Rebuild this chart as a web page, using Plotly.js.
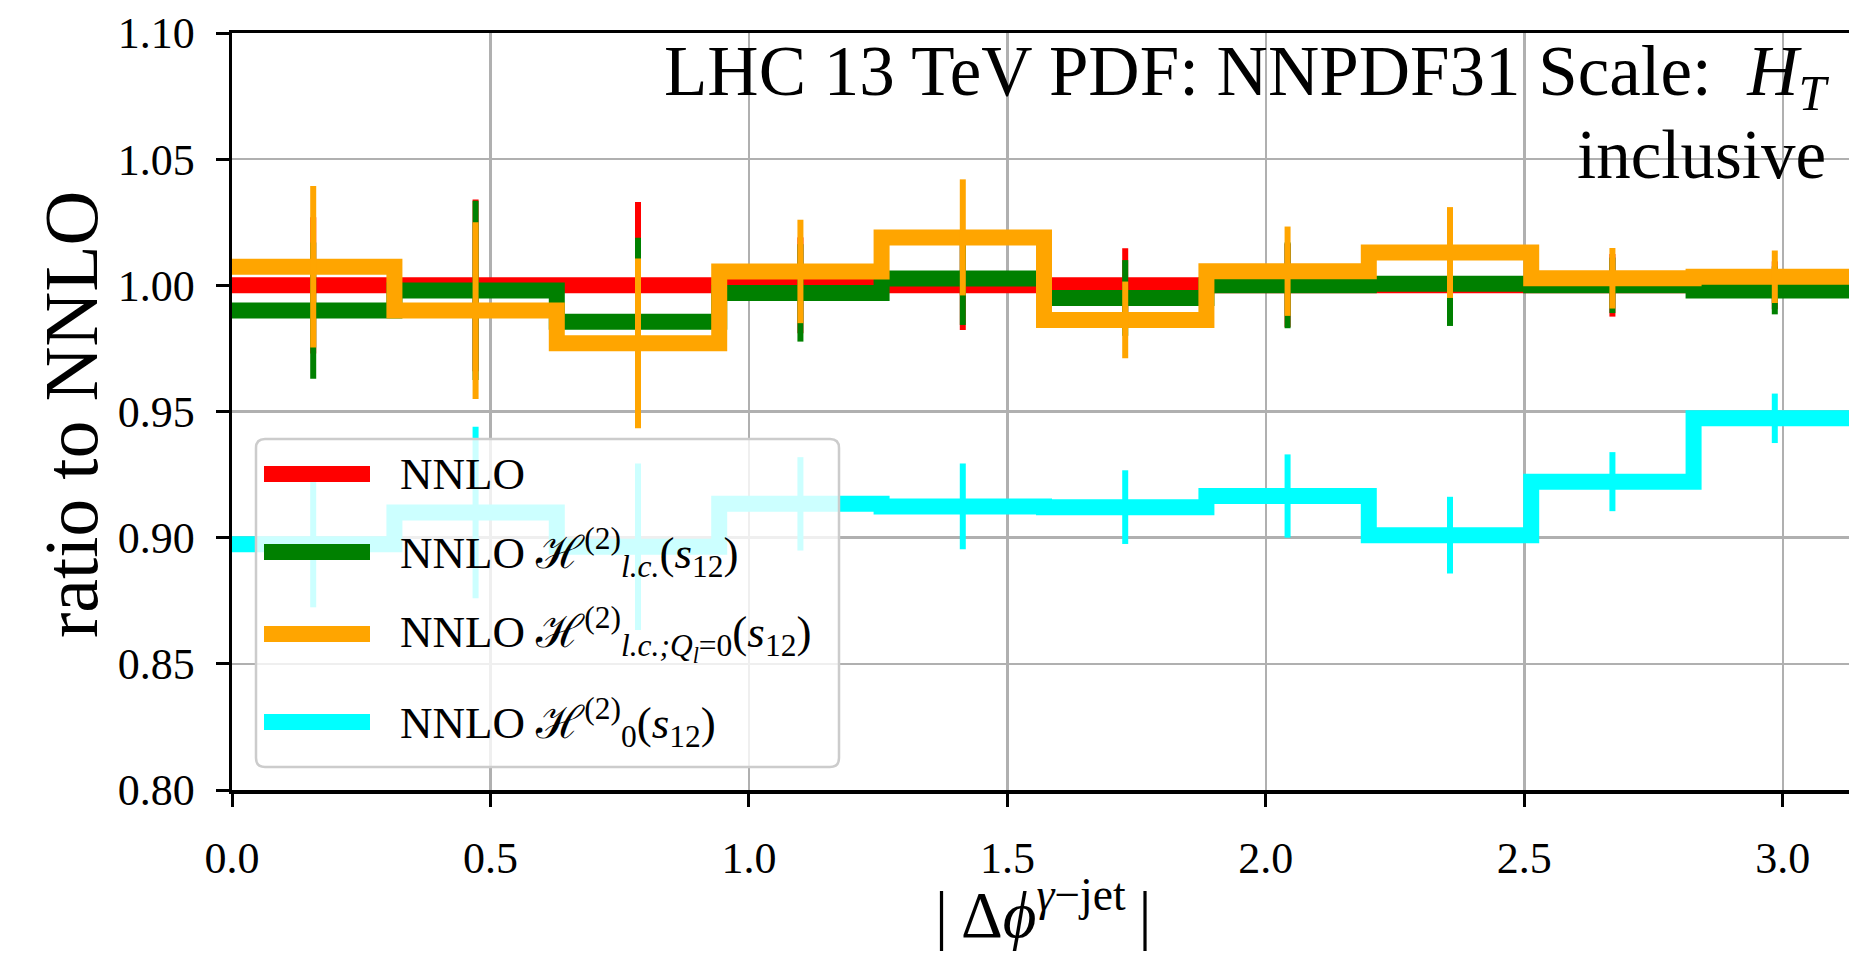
<!DOCTYPE html>
<html>
<head>
<meta charset="utf-8">
<script src="https://cdn.plot.ly/plotly-3.0.1.min.js"></script>
<style>
html,body{margin:0;padding:0;overflow:hidden;background:#fff;}
#plot{width:1857px;height:954px;}
</style>
</head>
<body>
<div id="plot"></div>
<script>
// ---- data ----
const binEdges   = [0, 0.3142, 0.6283, 0.9425, 1.2566, 1.5708, 1.8850, 2.1991, 2.5133, 2.8274, 3.1416];
const binCenters = [0.1571, 0.4712, 0.7854, 1.0996, 1.4137, 1.7279, 2.0420, 2.3562, 2.6704, 2.9845];

const nnlo      = [1.000, 1.000, 1.000, 1.000, 1.000, 1.000, 1.000, 1.000, 1.000, 1.000];
const nnloErr   = [0.027, 0.034, 0.033, 0.019, 0.0177, 0.0147, 0.0165, 0.0155, 0.0124, 0.0095];

const nnloLc    = [0.990, 0.998, 0.9856, 0.997, 1.0027, 0.995, 1.000, 1.0006, 1.000, 0.998];
const nnloLcErr = [0.027, 0.0355, 0.0333, 0.0193, 0.0184, 0.015, 0.017, 0.0167, 0.011, 0.0095];

const nnloQ0    = [1.0074, 0.990, 0.977, 1.0055, 1.019, 0.9863, 1.0056, 1.013, 1.0028, 1.0034];
const nnloQ0Err = [0.032, 0.035, 0.0336, 0.0205, 0.023, 0.0152, 0.0177, 0.018, 0.012, 0.0104];

const nnloH0    = [0.8974, 0.910, 0.8964, 0.9134, 0.9124, 0.9121, 0.9165, 0.901, 0.9222, 0.9473];
const nnloH0Err = [0.025, 0.034, 0.033, 0.0185, 0.017, 0.0146, 0.0165, 0.0152, 0.0117, 0.0098];

const seriesNames = [
  "NNLO",
  "NNLO \u210B<sup>(2)</sup><sub><i>l.c.</i></sub>(<i>s</i><sub>12</sub>)",
  "NNLO \u210B<sup>(2)</sup><sub><i>l.c.;Q<sub>l</sub></i>=0</sub>(<i>s</i><sub>12</sub>)",
  "NNLO \u210B<sup>(2)</sup><sub>0</sub>(<i>s</i><sub>12</sub>)"
];
const seriesColors = ["#ff0000", "#008000", "#ffa500", "#00ffff"];
const seriesVals = [nnlo, nnloLc, nnloQ0, nnloH0];
const seriesErrs = [nnloErr, nnloLcErr, nnloQ0Err, nnloH0Err];

const xTicks = [0.0, 0.5, 1.0, 1.5, 2.0, 2.5, 3.0];
const yTicks = [0.80, 0.85, 0.90, 0.95, 1.00, 1.05, 1.10];

// ---- layout geometry ----
const W = 1857, H = 954, ML = 232, MR = 1, MT = 33, MB = 164;
const PW = W - ML - MR, PH = H - MT - MB;
const px = p => (p - ML) / PW;
const py = p => (H - MB - p) / PH;
const FONT = "Liberation Serif, Times New Roman, serif";

const traces = [];
seriesVals.forEach((vals, i) => {
  traces.push({
    x: binEdges,
    y: vals.concat([vals[vals.length - 1]]),
    mode: "lines",
    line: {shape: "hv", color: seriesColors[i], width: 16},
    showlegend: false,
    hoverinfo: "skip"
  });
  traces.push({
    x: binCenters,
    y: vals,
    mode: "markers",
    marker: {size: 1, opacity: 0, color: seriesColors[i]},
    error_y: {type: "data", array: seriesErrs[i], visible: true,
              color: seriesColors[i], thickness: 6, width: 0},
    showlegend: false,
    hoverinfo: "skip"
  });
});

// ---- custom legend (box, samples, labels) ----
const shapes = [];
const annotations = [];
function roundRect(x0, y0, x1, y1, r) {
  const X = v => px(v), Y = v => py(v);
  const p = [];
  p.push(`M${X(x0 + r)},${Y(y0)}`);
  p.push(`L${X(x1 - r)},${Y(y0)}`);
  p.push(`Q${X(x1)},${Y(y0)} ${X(x1)},${Y(y0 + r)}`);
  p.push(`L${X(x1)},${Y(y1 - r)}`);
  p.push(`Q${X(x1)},${Y(y1)} ${X(x1 - r)},${Y(y1)}`);
  p.push(`L${X(x0 + r)},${Y(y1)}`);
  p.push(`Q${X(x0)},${Y(y1)} ${X(x0)},${Y(y1 - r)}`);
  p.push(`L${X(x0)},${Y(y0 + r)}`);
  p.push(`Q${X(x0)},${Y(y0)} ${X(x0 + r)},${Y(y0)}`);
  p.push("Z");
  return p.join(" ");
}
shapes.push({
  type: "path", xref: "paper", yref: "paper", layer: "above",
  path: roundRect(256, 439, 839, 767, 9),
  fillcolor: "rgba(255,255,255,0.8)",
  line: {color: "rgba(204,204,204,1)", width: 2.5}
});
const legendRows = [474, 552, 634, 722];
legendRows.forEach((yy, i) => {
  shapes.push({
    type: "line", xref: "paper", yref: "paper", layer: "above",
    x0: px(264), x1: px(370), y0: py(yy), y1: py(yy),
    line: {color: seriesColors[i], width: 16}
  });
  annotations.push({
    xref: "paper", yref: "paper", x: px(398), y: py(yy),
    xanchor: "left", yanchor: "middle", showarrow: false,
    text: seriesNames[i],
    font: {family: FONT, size: 45, color: "#000"}
  });
});

// ---- texts ----
annotations.push({
  xref: "paper", yref: "paper", x: px(1831), y: py(76),
  xanchor: "right", yanchor: "middle", showarrow: false,
  text: "LHC 13 TeV PDF: NNPDF31 Scale:  <i>H</i><sub><i>T</i></sub>",
  font: {family: FONT, size: 71, color: "#000"}
});
annotations.push({
  xref: "paper", yref: "paper", x: px(1828), y: py(155),
  xanchor: "right", yanchor: "middle", showarrow: false,
  text: "inclusive",
  font: {family: FONT, size: 69, color: "#000"}
});
annotations.push({
  xref: "paper", yref: "paper", x: px(71), y: py(415),
  xanchor: "center", yanchor: "middle", showarrow: false, textangle: -90,
  text: "ratio to NNLO",
  font: {family: FONT, size: 76, color: "#000"}
});
annotations.push({
  xref: "paper", yref: "paper", x: px(1043), y: py(953),
  xanchor: "center", yanchor: "bottom", showarrow: false,
  text: "|\u2009\u0394<i>\u03D5</i><sup><i>\u03B3</i>\u2212jet</sup>\u2009|",
  font: {family: FONT, size: 65, color: "#000"}
});

const axisCommon = {
  showline: true, linecolor: "#000", linewidth: 3.5, mirror: true,
  showgrid: true, gridcolor: "#b0b0b0", gridwidth: 2.5,
  zeroline: false,
  ticks: "outside", ticklen: 13, tickwidth: 3, tickcolor: "#000",
  tickfont: {family: FONT, size: 44, color: "#000"}
};

const layout = {
  width: W, height: H,
  margin: {l: ML, r: MR, t: MT, b: MB, pad: 0},
  paper_bgcolor: "#fff", plot_bgcolor: "#fff",
  showlegend: false,
  xaxis: Object.assign({}, axisCommon, {
    range: [binEdges[0], binEdges[binEdges.length - 1]],
    tickvals: xTicks, ticktext: xTicks.map(v => v.toFixed(1)),
    ticklabelstandoff: 14
  }),
  yaxis: Object.assign({}, axisCommon, {
    range: [yTicks[0], yTicks[yTicks.length - 1]],
    tickvals: yTicks, ticktext: yTicks.map(v => v.toFixed(2)),
    ticklabelstandoff: 12
  }),
  shapes: shapes,
  annotations: annotations,
  font: {family: FONT}
};

Plotly.newPlot("plot", traces, layout, {staticPlot: true, displayModeBar: false});
</script>
</body>
</html>
